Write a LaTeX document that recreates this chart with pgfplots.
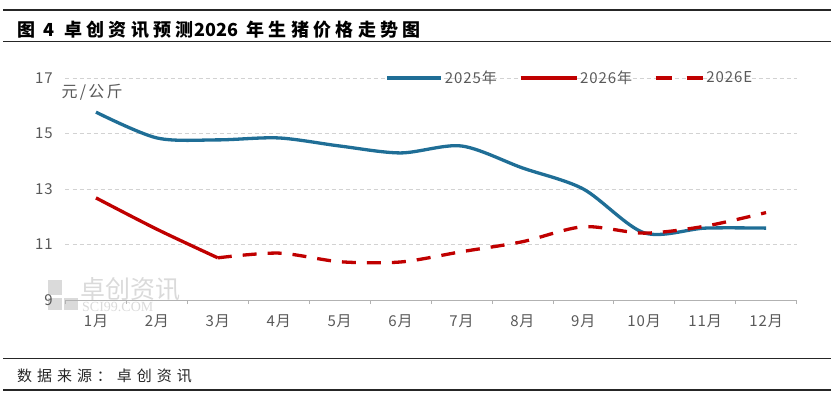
\documentclass[border=0pt]{standalone}
\usepackage{fontspec}
\usepackage{pgfplots}
\pgfplotsset{compat=1.18}
\setmainfont{Noto Sans CJK SC}
\newfontfamily\titlefont[LetterSpace=24]{Noto Sans CJK SC}
\newfontfamily\titledig{Noto Sans CJK SC}
\newfontfamily\footfont[LetterSpace=33]{Noto Sans CJK SC}
\newfontfamily\lblfont[LetterSpace=6]{Noto Sans CJK SC}
\newfontfamily\unitfont[LetterSpace=14]{Noto Sans CJK SC}
\newfontfamily\wmserif{Liberation Serif}
\definecolor{cA}{RGB}{31,110,150}
\definecolor{cB}{RGB}{192,0,0}
\definecolor{tickc}{RGB}{89,89,89}
\definecolor{gridc}{RGB}{210,210,210}
\definecolor{wm}{RGB}{218,218,218}
\begin{document}
\begin{tikzpicture}[x=1pt,y=1pt]
\useasboundingbox (0,0) rectangle (837,399);
\draw[line width=1.6pt,black!85] (3,389) -- (831,389);
\node[anchor=west,font=\fontsize{18pt}{20pt}\selectfont\bfseries,inner sep=0] at (17,369) {{\titlefont 图}\hspace{8pt}{\titledig 4}\hspace{10pt}{\titlefont 卓创资讯预测}\hspace{1pt}{\titledig 2026}\hspace{8pt}{\titlefont 年生猪价格走势图}};
\draw[line width=1.6pt,black!85] (3,357.3) -- (831,357.3);
\draw[line width=1.3pt,black!85] (3,40.7) -- (831,40.7);
\node[anchor=west,font=\footfont\fontsize{15pt}{17pt}\selectfont,inner sep=0,black!85] at (17,23) {数据来源：卓创资讯};
\draw[line width=1.3pt,black!85] (3,9) -- (831,9);
% watermark
\fill[wm] (48,89) rectangle (62,101);
\fill[wm] (48,104) rectangle (62,119);
\fill[wm] (64,89) rectangle (78,101);
\node[anchor=west,font=\fontsize{25pt}{27pt}\selectfont,text=wm,inner sep=0] at (80,110) {卓创资讯};
\node[anchor=west,font=\wmserif\fontsize{14pt}{15pt}\selectfont,text=wm,inner sep=0] at (82,92) {SCI99.COM};
\begin{axis}[
  at={(65.5pt,99pt)}, anchor=south west, scale only axis,
  width=731pt, height=222pt,
  xmin=0.5, xmax=12.5, ymin=9, ymax=17,
  axis x line*=bottom, axis y line*=left,
  x axis line style={draw=gray!60, line width=0.8pt},
  y axis line style={draw=none},
  ytick={9,11,13,15,17},
  ymajorgrids, grid style={gridc, dash pattern=on 4pt off 3pt, line width=0.6pt},
  major y tick style={draw=none},
  xtick={1,...,12},
  xticklabels={1月,2月,3月,4月,5月,6月,7月,8月,9月,10月,11月,12月},
  major x tick style={draw=none},
  minor xtick={0.5,1.5,...,12.5},
  minor tick length=4pt,
  minor x tick style={draw=gray!60, line width=0.6pt},
  tick align=outside,
  /pgf/number format/assume math mode=true,
  tick label style={font=\lblfont\fontsize{15pt}{17pt}\selectfont, text=tickc},
  xticklabel style={yshift=-7pt},
  yticklabel style={xshift=-5pt},
  legend style={at={(axis description cs:0.69,1)}, anchor=center, draw=none, fill=none,
    font=\lblfont\fontsize{15pt}{17pt}\selectfont, text=tickc, legend columns=3,
    /tikz/every even column/.append style={column sep=20pt}},
  clip=false,
]
\addplot[cA, line width=3.3pt, smooth, legend image code/.code={\draw[cA,line width=3.3pt] (0pt,0pt) -- (54pt,0pt);}] coordinates {
(1,15.77) (2,14.84) (3,14.77) (4,14.84) (5,14.55) (6,14.30) (7,14.55) (8,13.76) (9,13.00) (10,11.42) (11,11.59) (12,11.59)};
\addlegendentry{2025年}
\addplot[cB, line width=3.3pt, smooth, legend image code/.code={\draw[cB,line width=3.3pt] (0pt,0pt) -- (56pt,0pt);}] coordinates {
(1,12.68) (2,11.55) (3,10.52)};
\addlegendentry{2026年}
\addplot[cB, line width=3.3pt, smooth, dash pattern=on 14pt off 11pt, legend image code/.code={\draw[cB,line width=3.3pt,dash pattern=on 16pt off 15pt] (0pt,0pt) -- (47pt,0pt);}] coordinates {
(3,10.52) (4,10.69) (5,10.38) (6,10.37) (7,10.74) (8,11.10) (9,11.64) (10,11.41) (11,11.66) (12,12.15)};
\addlegendentry{2026E}
\node[anchor=north west, font=\unitfont\fontsize{16pt}{18pt}\selectfont, text=tickc, inner sep=0] at (axis description cs:0,1) [xshift=-4pt,yshift=-6pt] {元/公斤};
\end{axis}
\end{tikzpicture}
\end{document}
